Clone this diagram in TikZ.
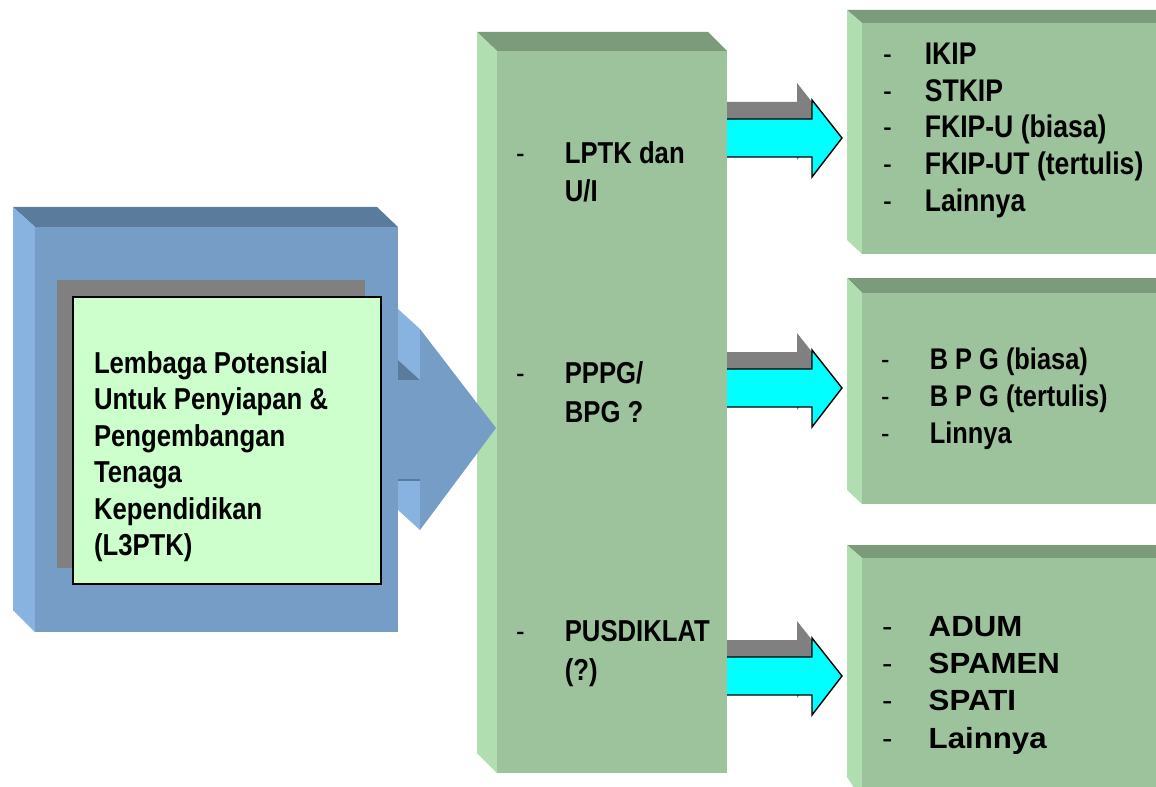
\documentclass[tikz,border=0pt]{standalone}
\usepackage{fontspec}
\setmainfont{Liberation Sans}
\newfontfamily\narrowsf{Liberation Sans}[FakeStretch=0.85]
\newfontfamily\widesf{Liberation Sans}[FakeStretch=1.07]
\usepackage{xcolor}
\usepackage{tikz}

\definecolor{bluefr}{HTML}{759DC6}
\definecolor{bluetp}{HTML}{5B7B9C}
\definecolor{bluesd}{HTML}{88B2E0}
\definecolor{greenfr}{HTML}{9DC39D}
\definecolor{greentp}{HTML}{7B9B7B}
\definecolor{greensd}{HTML}{B1DEB1}
\definecolor{paleg}{HTML}{CCFFCC}
\definecolor{arrowcyan}{RGB}{0,255,255}

\tikzset{
  face/.style={inner sep=0pt, outer sep=0pt, anchor=north west},
  bluefront/.style={face, fill=bluefr},
  greenfront/.style={face, fill=greenfr},
  txt/.style={anchor=north west, inner sep=0pt, outer sep=0pt},
  midtxt/.style={txt, font=\narrowsf\bfseries\fontsize{17.2}{21.9}\selectfont},
  cyanarrow/.style={fill=arrowcyan, draw=black, line width=0.8pt, line join=miter},
  grayarrow/.style={fill=black!50},
}

\begin{document}
\begin{tikzpicture}[x=0.02cm, y=-0.02cm]
        \useasboundingbox (0,0) rectangle (1156,787);
        \clip (0,0) rectangle (1156,787);

        % left block (L3PTK)
        \fill[bluetp] (13,207) -- (377,207) -- (398,227) -- (35,227) -- cycle;
        \fill[bluesd] (13,207) -- (35,227) -- (35,632) -- (13,610) -- cycle;
        \node[bluefront, minimum width=7.26cm, minimum height=8.1cm] (l3ptk) at (35,227) {};
        \fill[black!50] (57,280) rectangle (365,568);
        \draw[fill=paleg, line width=0.8pt] (73,297) rectangle (381,584);
        \node[txt, font=\narrowsf\bfseries\fontsize{17.2}{20.8}\selectfont] (l3ptktext) at (94,347.6)
            {\begin{tabular}{@{}l@{}}Lembaga Potensial\\ Untuk Penyiapan \&\\ Pengembangan\\
             Tenaga\\ Kependidikan\\ (L3PTK)\end{tabular}};

        % middle column
        \fill[greentp] (477,32) -- (708,32) -- (727,51) -- (497,51) -- cycle;
        \fill[greensd] (477,32) -- (497,51) -- (497,773) -- (477,753) -- cycle;
        \node[greenfront, minimum width=4.6cm, minimum height=14.44cm] (mid) at (497,51) {};

        % big blue arrow
        \fill[bluesd] (398,309) -- (420,329) -- (420,380) -- (398,360) -- cycle;
        \fill[bluetp] (398,360) -- (420,380) -- (398,380) -- cycle;
        \fill[bluesd] (398,480) -- (420,480) -- (420,530) -- (398,510) -- cycle;
        \fill[bluefr] (398,380) -- (420,380) -- (420,329) -- (496,428) -- (420,530)
            -- (420,480) -- (398,480) -- cycle;
        \draw[bluetp, line width=0.6pt] (398,480) -- (420,480);

        \node[midtxt] (lptk) at (516,136.2)
            {\begin{tabular}{@{}p{27.8pt}@{}l@{}}\mdseries - & LPTK dan\\ & U/I\end{tabular}};
        \node[midtxt] (pppg) at (516,357)
            {\begin{tabular}{@{}p{27.8pt}@{}l@{}}\mdseries - & PPPG/\\ & BPG ?\end{tabular}};
        \node[midtxt] (pusdiklat) at (516,614.6)
            {\begin{tabular}{@{}p{27.8pt}@{}l@{}}\mdseries - & PUSDIKLAT\\ & (?)\end{tabular}};

        % right boxes
        \fill[greentp] (847,10) -- (1170,10) -- (1185,23) -- (862,23) -- cycle;
        \fill[greensd] (847,10) -- (862,23) -- (862,254) -- (847,240) -- cycle;
        \node[greenfront, minimum width=6.6cm, minimum height=4.62cm] (lptkbox) at (862,23) {};

        \fill[greentp] (847,278) -- (1170,278) -- (1185,293) -- (862,293) -- cycle;
        \fill[greensd] (847,278) -- (862,293) -- (862,504) -- (847,490) -- cycle;
        \node[greenfront, minimum width=6.6cm, minimum height=4.22cm] (bpgbox) at (862,293) {};

        \fill[greentp] (847,545) -- (1170,545) -- (1185,558) -- (862,558) -- cycle;
        \fill[greensd] (847,545) -- (862,558) -- (862,800) -- (847,777) -- cycle;
        \node[greenfront, minimum width=6.6cm, minimum height=5cm] (diklatbox) at (862,558) {};

        \node[txt, font=\narrowsf\bfseries\fontsize{17.8}{20.8}\selectfont] (lptklist) at (883,39.3)
            {\begin{tabular}{@{}p{23.8pt}@{}l@{}}\mdseries - & IKIP\\ \mdseries - & STKIP\\
             \mdseries - & FKIP-U (biasa)\\ \mdseries - & FKIP-UT (tertulis)\\ \mdseries - & Lainnya\end{tabular}};
        \node[txt, font=\narrowsf\bfseries\fontsize{17}{21}\selectfont] (bpglist) at (881,343.4)
            {\begin{tabular}{@{}p{27.8pt}@{}l@{}}\mdseries - & B P G (biasa)\\
             \mdseries - & B P G (tertulis)\\ \mdseries - & Linnya\end{tabular}};
        \node[txt, font=\widesf\bfseries\fontsize{16.6}{21.3}\selectfont] (diklatlist) at (882,609.8)
            {\begin{tabular}{@{}p{26.6pt}@{}l@{}}\mdseries - & ADUM\\ \mdseries - & SPAMEN\\
             \mdseries - & SPATI\\ \mdseries - & Lainnya\end{tabular}};

        % arrows to the right boxes
        \foreach \c in {138,388,676} {
            \fill[grayarrow, shift={(727,\c)}] (0,-36) -- (70,-36) -- (70,-55) -- (100,-17)
                -- (70,22) -- (70,2) -- (0,2) -- cycle;
            \draw[cyanarrow, shift={(727,\c)}] (0,-19) -- (85,-19) -- (85,-38) -- (115,0)
                -- (85,39) -- (85,19) -- (0,19);
        }
\end{tikzpicture}
\end{document}
